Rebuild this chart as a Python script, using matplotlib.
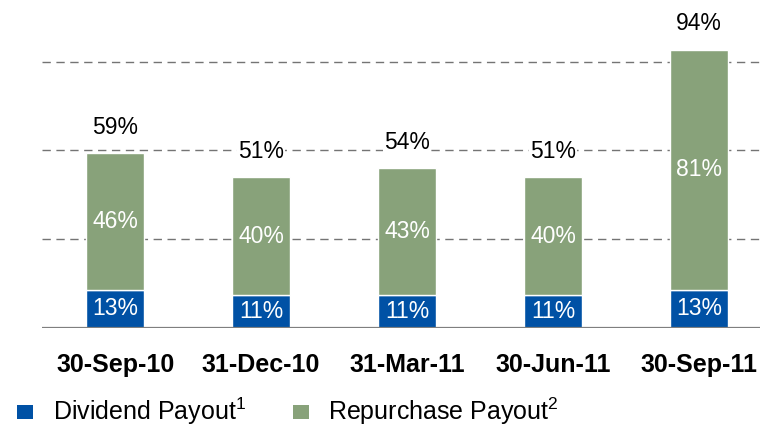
import matplotlib.pyplot as plt
from matplotlib.patches import Rectangle

quarters = ['30-Sep-10', '31-Dec-10', '31-Mar-11', '30-Jun-11', '30-Sep-11']
dividend = [13, 11, 11, 11, 13]
repurchase = [46, 40, 43, 40, 81]
totals = [59, 51, 54, 51, 94]
legend_labels = ['Dividend Payout$^1$', 'Repurchase Payout$^2$']

blue = '#0051A5'
green = '#88A27A'
plt.rcParams['font.family'] = ['Liberation Sans', 'DejaVu Sans']
plt.rcParams['mathtext.fontset'] = 'custom'
plt.rcParams['mathtext.rm'] = 'Liberation Sans'

W, H = 760, 428
fig = plt.figure(figsize=(W / 100, H / 100), dpi=100)
ax = fig.add_axes([0.055, 0.2336, 0.945, 0.743])

x = list(range(len(quarters)))
ax.bar(x, dividend, width=0.40, color=blue, edgecolor='white', linewidth=1, zorder=3)
ax.bar(x, repurchase, width=0.40, bottom=dividend, color=green, edgecolor='white',
       linewidth=1, zorder=3)

for i in x:
    ax.text(i, dividend[i] / 2, f'{dividend[i]}%', ha='center', va='center',
            color='white', fontsize=16.5, zorder=4)
    ax.text(i, dividend[i] + repurchase[i] / 2, f'{repurchase[i]}%', ha='center',
            va='center', color='white', fontsize=16.5, zorder=4)
    ax.text(i, totals[i] + 8.7, f'{totals[i]}%', ha='center', va='center',
            color='black', fontsize=16.5, zorder=4,
            bbox=dict(facecolor='white', edgecolor='none', pad=0.5))

# пунктирная сетка
for y in [30, 60, 90]:
    ax.axhline(y, color='#747474', linewidth=1, linestyle=(0, (6, 4)), zorder=1)
ax.axhline(0, color='#7f7f7f', linewidth=1.6, zorder=5)

ax.set_xlim(-0.503, 4.418)
ax.set_ylim(0, 107.4)
ax.set_xticks(x)
ax.set_xticklabels(quarters, fontsize=18, fontweight='bold')
ax.tick_params(axis='x', length=0, pad=18)
ax.set_yticks([])
for s in ax.spines.values():
    s.set_visible(False)

# легенда вручную (в пикселях фигуры)
for (sq_x, tx_x), color, label in zip([(17, 53), (293, 328)], [blue, green], legend_labels):
    fig.patches.append(Rectangle((sq_x / W, (H - 419) / H), 16 / W, 14 / H,
                                 transform=fig.transFigure, facecolor=color,
                                 edgecolor='none'))
    fig.text(tx_x / W, (H - 420) / H, label, fontsize=18, va='baseline', ha='left')

fig.savefig('out.png', dpi=100)
